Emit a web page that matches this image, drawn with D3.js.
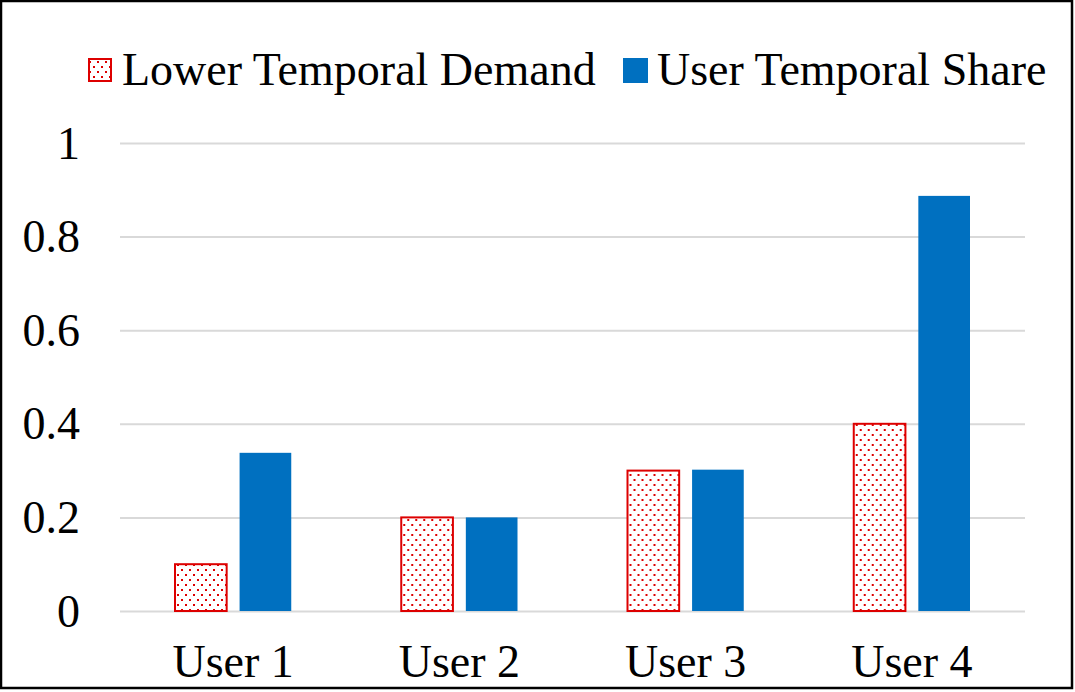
<!DOCTYPE html>
<html>
<head>
<meta charset="utf-8">
<script src="https://cdn.jsdelivr.net/npm/d3@7"></script>
<style>
	body { margin: 0; background: #fff; }
	svg text { font-family: 'Liberation Serif', 'Times New Roman', serif; fill: #000; }
</style>
</head>
<body>
<svg id="chart"></svg>
<script>
// chart data
const users = ['User 1', 'User 2', 'User 3', 'User 4'];
const seriesNames = ['Lower Temporal Demand', 'User Temporal Share'];
const lowerDemand = [0.1, 0.2, 0.3, 0.4];
const temporalShare = [0.338, 0.2, 0.302, 0.887];
const yTicks = [0, 0.2, 0.4, 0.6, 0.8, 1];

const width = 1075;
const height = 692;
const margin = { top: 143, right: 50, bottom: 81, left: 120 };
const innerW = width - margin.left - margin.right;
const innerH = height - margin.top - margin.bottom;

const svg = d3.select('#chart').attr('width', width).attr('height', height);

// dotted fill for the first series
const defs = svg.append('defs');
const pat = defs.append('pattern')
	.attr('id', 'dots')
	.attr('patternUnits', 'userSpaceOnUse')
	.attr('width', 8)
	.attr('height', 10);
pat.append('rect').attr('width', 8).attr('height', 10).attr('fill', '#fff');
pat.append('rect').attr('x', 1).attr('y', 1).attr('width', 2).attr('height', 2).attr('fill', '#dd0000');
pat.append('rect').attr('x', 5).attr('y', 6).attr('width', 2).attr('height', 2).attr('fill', '#dd0000');

// outer frame
svg.append('rect')
	.attr('x', 1).attr('y', 1)
	.attr('width', 1071).attr('height', 687)
	.attr('fill', '#fff')
	.attr('stroke', '#000')
	.attr('stroke-width', 2.5);

const g = svg.append('g').attr('transform', `translate(${margin.left},${margin.top})`);

const x0 = d3.scaleBand().domain(users).range([0, innerW]).paddingInner(0).paddingOuter(0);
const x1 = d3.scaleBand().domain(seriesNames).range([55, x0.bandwidth() - 55]).paddingInner(0.2).paddingOuter(0);
const y = d3.scaleLinear().domain([0, 1]).range([innerH, 0]);

// gridlines + y labels
const yAxis = d3.axisLeft(y)
	.tickValues(yTicks)
	.tickSize(-innerW)
	.tickPadding(40)
	.tickFormat(d => d3.format('')(d));
const yG = g.append('g').call(yAxis);
yG.select('.domain').remove();
yG.selectAll('.tick line').attr('stroke', '#d9d9d9').attr('stroke-width', 2);
yG.selectAll('.tick text')
	.attr('font-size', 46)
	.attr('dy', '0.33em')
	.style('font-family', "'Liberation Serif', serif");

// x labels
const xAxis = d3.axisBottom(x0).tickSize(0).tickPadding(0);
const xG = g.append('g').attr('transform', `translate(0,${innerH})`).call(xAxis);
xG.select('.domain').remove();
xG.selectAll('.tick text')
	.attr('font-size', 46)
	.attr('y', 66)
	.attr('dy', 0)
	.style('font-family', "'Liberation Serif', serif");

const rows = users.map((u, i) => ({ user: u, values: [lowerDemand[i], temporalShare[i]] }));

const groups = g.selectAll('.grp')
	.data(rows)
	.join('g')
	.attr('class', 'grp')
	.attr('transform', d => `translate(${x0(d.user)},0)`);

groups.selectAll('rect')
	.data(d => d.values.map((v, i) => ({ key: seriesNames[i], value: v })))
	.join('rect')
	.attr('x', d => x1(d.key))
	.attr('width', x1.bandwidth())
	.attr('y', d => y(d.value))
	.attr('height', d => innerH - y(d.value))
	.attr('fill', d => d.key === seriesNames[0] ? 'url(#dots)' : '#0070c0')
	.attr('stroke', d => d.key === seriesNames[0] ? '#dd0000' : 'none')
	.attr('stroke-width', 2);

// legend
const legendX = [88, 623];
const legend = svg.append('g').attr('class', 'legend');
legend.selectAll('rect')
	.data(seriesNames)
	.join('rect')
	.attr('x', (d, i) => legendX[i] + (i === 0 ? 1 : 0))
	.attr('y', (d, i) => i === 0 ? 59 : 58)
	.attr('width', (d, i) => i === 0 ? 22 : 25)
	.attr('height', (d, i) => i === 0 ? 22 : 25)
	.attr('fill', (d, i) => i === 0 ? 'url(#dots)' : '#0070c0')
	.attr('stroke', (d, i) => i === 0 ? '#dd0000' : 'none')
	.attr('stroke-width', 2);
legend.selectAll('text')
	.data(seriesNames)
	.join('text')
	.attr('x', (d, i) => legendX[i] + 34)
	.attr('y', 85)
	.attr('font-size', 46)
	.text(d => d);
</script>
</body>
</html>
